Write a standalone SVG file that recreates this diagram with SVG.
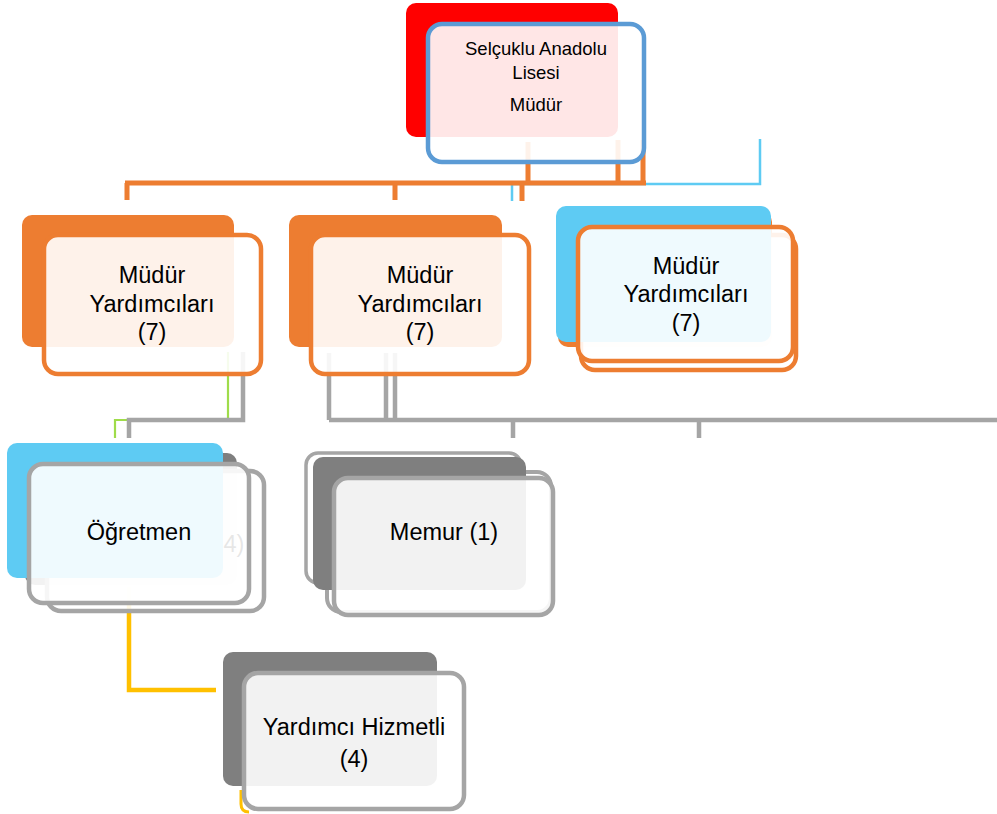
<svg xmlns="http://www.w3.org/2000/svg" width="997" height="814" viewBox="0 0 997 814">
<style>
text{font-family:"Liberation Sans",Arial,sans-serif;fill:#000;text-anchor:middle}
.t{font-size:18.5px}
.n{font-size:23.5px}
.face{fill:#fff;fill-opacity:0.9;stroke-width:4.5}
.og{stroke:#ed7d31}
.bl{stroke:#5b9bd5}
.gr{stroke:#a5a5a5}
.c{fill:none;stroke-linejoin:miter}
</style>
<rect width="997" height="814" fill="#fff"/>
<g id="connectors" class="c">
<path d="M760,139 V184 H512 V201" stroke="#5ecbf3" stroke-width="2.5"/>
<path d="M125,183 H646 M127,183 V200 M395,183 V200 M522,183 V201 M528,142 V183 M618,140 V183 M643,140 V183" stroke="#ed7d31" stroke-width="5"/>
<path d="M228,352 V420 H115 V438" stroke="#9fdc4a" stroke-width="2.2"/>
<path d="M243,352 V420 H129 V438" stroke="#a5a5a5" stroke-width="4.5"/>
<path d="M329,353 V420 M386,353 V420 M395,353 V420 M329,420 H997 M513,420 V438 M699,420 V438" stroke="#a5a5a5" stroke-width="4.5"/>
<path d="M129,587 V690 H216" stroke="#ffc000" stroke-width="4.5"/>
<path d="M241,790 V804 Q241,812 249,812" stroke="#ffc000" stroke-width="3"/>
</g>
<g id="mudur">
<rect x="406" y="3" width="212" height="134" rx="10" fill="#ff0000"/>
<rect class="face bl" x="428" y="24" width="216" height="138" rx="14"/>
<text class="t" x="536" y="55">Selçuklu Anadolu</text>
<text class="t" x="536" y="79">Lisesi</text>
<text class="t" x="536" y="111">Müdür</text>
</g>
<g id="my1">
<rect x="22" y="215" width="212" height="132" rx="10" fill="#ed7d31"/>
<rect class="face og" x="44" y="235" width="217" height="139" rx="14"/>
<text class="n" x="152" y="283">Müdür</text>
<text class="n" x="152" y="312">Yardımcıları</text>
<text class="n" x="152" y="340">(7)</text>
</g>
<g id="my2">
<rect x="289" y="215" width="213" height="132" rx="10" fill="#ed7d31"/>
<rect class="face og" x="311" y="235" width="218" height="139" rx="14"/>
<text class="n" x="420" y="283">Müdür</text>
<text class="n" x="420" y="312">Yardımcıları</text>
<text class="n" x="420" y="340">(7)</text>
</g>
<g id="my3">
<rect x="558" y="212" width="214" height="135" rx="10" fill="#ed7d31"/>
<rect class="face og" x="581" y="235" width="215" height="135" rx="14"/>
<rect x="556" y="206" width="215" height="136" rx="10" fill="#5ecbf3"/>
<rect class="face og" x="578" y="227" width="215" height="134" rx="14"/>
<text class="n" x="686" y="274">Müdür</text>
<text class="n" x="686" y="302">Yardımcıları</text>
<text class="n" x="686" y="331">(7)</text>
</g>
<g id="ogretmen">
<rect x="25" y="453" width="212" height="132" rx="10" fill="#7f7f7f"/>
<rect class="face gr" x="47" y="471" width="217" height="140" rx="14"/>
<rect x="7" y="443" width="216" height="135" rx="10" fill="#5ecbf3"/>
<text class="n" x="234" y="552">4)</text>
<rect class="face gr" x="29" y="464" width="220" height="139" rx="14"/>
<text class="n" x="139" y="540">Öğretmen</text>
</g>
<g id="memur">
<rect x="327" y="472" width="224" height="140" rx="14" fill="#fff" stroke="#a5a5a5" stroke-width="4"/>
<rect x="306" y="453" width="215" height="130" rx="12" fill="#fff" stroke="#a5a5a5" stroke-width="3.5"/>
<rect x="313" y="457" width="213" height="133" rx="10" fill="#7f7f7f"/>
<rect class="face gr" x="334" y="478" width="219" height="137" rx="14"/>
<text class="n" x="444" y="540">Memur (1)</text>
</g>
<g id="hizmetli">
<rect x="223" y="652" width="214" height="134" rx="10" fill="#7f7f7f"/>
<rect class="face gr" x="244" y="673" width="220" height="136" rx="14"/>
<text class="n" x="354" y="735">Yardımcı Hizmetli</text>
<text class="n" x="354" y="767">(4)</text>
</g>
</svg>
